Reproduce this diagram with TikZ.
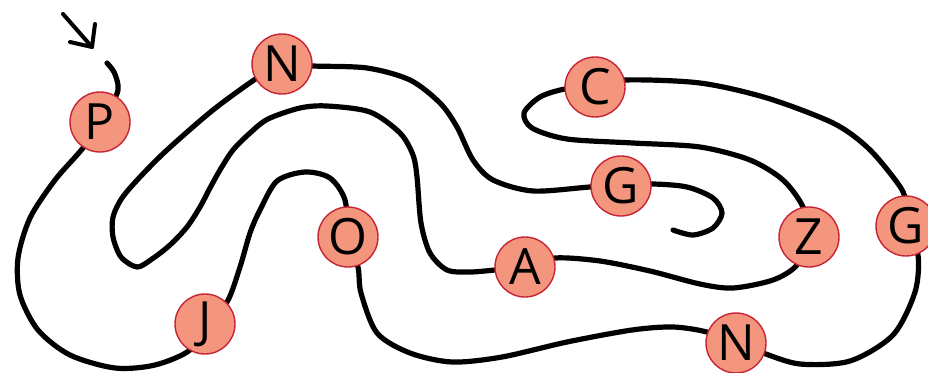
\documentclass[tikz,border=0pt]{standalone}
\usepackage{fontspec}
\newfontfamily\letterfont{Open Sans}
\usetikzlibrary{backgrounds}
\definecolor{beadfill}{RGB}{244,149,125}
\definecolor{beadrim}{RGB}{198,36,52}
\begin{document}
\begin{tikzpicture}[x=1pt,y=-1pt,
  bead/.style={circle,draw=beadrim,line width=1.4pt,fill=beadfill,
    minimum size=60pt,inner sep=0pt,
    font=\letterfont\fontsize{50}{50}\selectfont},
  snake/.style={line width=5.2pt,line cap=round,line join=round},
  pointer/.style={line width=4pt,line cap=round,line join=round}]
\useasboundingbox (0,0) rectangle (928,372);
\clip (0,0) rectangle (928,372);

% letter beads
\node[bead] (P)  at (100,122) {P};
\node[bead] (J)  at (205,324) {J};
\node[bead] (O)  at (348,237) {O};
\node[bead] (N2) at (736,343) {N};
\node[bead] (G2) at (906,226) {G};
\node[bead] (C)  at (595,87)  {C};
\node[bead] (Z)  at (809,237) {Z};
\node[bead] (A)  at (525,267) {A};
\node[bead] (N1) at (282,64)  {N};
\node[bead] (G1) at (621,186) {G};

\coordinate (start) at (107,63);
\coordinate (finish) at (673,230);
\coordinate (tail) at (63,14);
\coordinate (tip) at (92,47);

% start marker
\draw[pointer] (tail) -- (tip);
\draw[pointer] (tip) ++(3,-23) -- (tip) -- ++(-22,-5);

% the winding line behind the beads
\begin{scope}[on background layer]
\draw[snake] plot[smooth] coordinates {(start) (114,72) (118,85) (116,96) (P.center)};
\draw[snake] plot[smooth] coordinates {(P.center) (83,148) (55,180) (30,218) (18,258)
  (20,295) (38,330) (70,355) (115,368) (155,365) (190,350) (J.center)};
\draw[snake] plot[smooth] coordinates {(J.center) (227,302) (240,267) (250,233)
  (260,210) (277,181) (305,172) (330,178) (345,200) (O.center)};
\draw[snake] plot[smooth] coordinates {(O.center) (358,267) (361,293) (377,333)
  (410,353) (452,362) (502,357) (567,342) (632,330) (673,327) (707,332) (N2.center)};
\draw[snake] plot[smooth] coordinates {(N2.center) (763,353) (800,364) (850,361)
  (893,335) (915,292) (918,255) (G2.center)};
\draw[snake] plot[smooth] coordinates {(G2.center) (905,197) (893,177) (867,147)
  (833,123) (767,98) (700,83) (625,80) (C.center)};
\draw[snake] plot[smooth] coordinates {(C.center) (565,89) (540,97) (524,113)
  (532,128) (567,139) (633,143) (700,147) (750,160) (783,180) (803,207) (Z.center)};
\draw[snake] plot[smooth] coordinates {(Z.center) (797,265) (773,280) (733,288)
  (700,284) (650,271) (600,261) (555,258) (A.center)};
\draw[snake] plot[smooth] coordinates {(A.center) (495,270) (470,272) (447,270)
  (430,253) (421,223) (417,177) (413,155) (400,133) (370,112) (327,106) (300,108)
  (268,119) (250,133) (233,150) (220,170) (210,188) (200,207) (187,227) (170,245)
  (152,259) (137,267) (121,257) (113,237) (113,217) (122,198) (140,177) (167,150)
  (213,110) (257,78) (N1.center)};
\draw[snake] plot[smooth] coordinates {(N1.center) (313,66) (367,68) (410,80)
  (440,103) (457,127) (473,160) (493,180) (533,191) (590,187) (G1.center)};
\draw[snake] plot[smooth] coordinates {(G1.center) (652,184) (687,187) (713,198)
  (722,213) (713,228) (693,235) (finish)};
\end{scope}
\end{tikzpicture}
\end{document}
